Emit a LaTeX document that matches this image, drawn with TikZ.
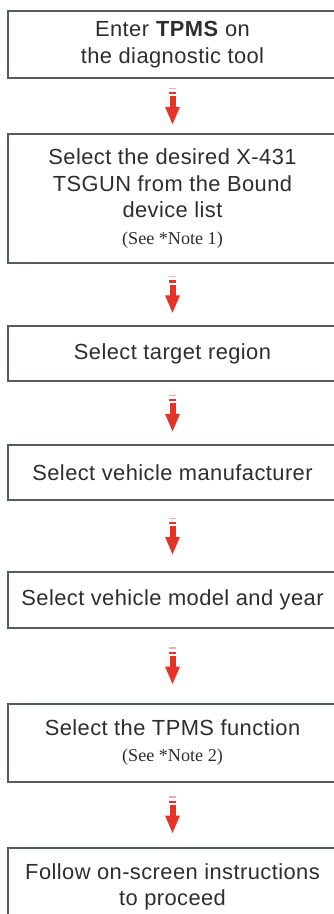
\documentclass[tikz,border=0pt]{standalone}
\usepackage{fontspec}
\setmainfont{Liberation Sans}[LetterSpace=2]
\newfontfamily\notefont{Liberation Serif}
\usetikzlibrary{decorations.markings}

\definecolor{boxgray}{RGB}{85,90,96}
\definecolor{textgray}{RGB}{45,45,45}
\definecolor{arrowred}{RGB}{228,52,42}

\tikzset{
	stepbox/.style={draw=boxgray, line width=1.5pt, text=textgray,
		minimum width=246.75pt, inner sep=0pt, align=center,
		font=\fontsize{16.4pt}{19.8pt}\selectfont},
	flowarrow/.style={postaction={decorate, decoration={markings,
		mark=at position 0.5 with {
			\fill[arrowred, opacity=0.4] (-18.5,-3.2) rectangle (-17.2,3.2);
			\fill[arrowred] (-14.2,-3.2) rectangle (-11.8,3.2);
			\fill[arrowred] (-9.8,-3) rectangle (1,3);
			\fill[arrowred] (0.8,-7.5) -- (18.3,0) -- (0.8,7.5) -- cycle;
		}}}}
}
\newcommand{\notetext}[1]{{\notefont\fontsize{13.6pt}{19.8pt}\selectfont #1}}

\begin{document}
\begin{tikzpicture}[x=0.75pt,y=0.75pt,yscale=-1,xscale=1]
	\useasboundingbox (0,0) rectangle (333,914);

	% Steps
	\node[stepbox, minimum height=50.25pt] (enter) at (172.5,44.5) {Enter \textbf{TPMS} on\\the diagnostic tool};
	\node[stepbox, minimum height=96.75pt] (tsgun) at (172.5,198.5) {Select the desired X-431\\TSGUN from the Bound\\device list\\\notetext{(See *Note 1)}};
	\node[stepbox, minimum height=41.25pt] (region) at (172.5,353.5) {Select target region};
	\node[stepbox, minimum height=41.25pt] (maker) at (172.5,472.5) {Select vehicle manufacturer};
	\node[stepbox, minimum height=42pt] (model) at (172.5,600) {Select vehicle model and year};
	\node[stepbox, minimum height=58.5pt] (function) at (172.5,742.5) {Select the TPMS function\\\notetext{(See *Note 2)}};
	\node[stepbox, minimum height=58.5pt] (follow) at (172.5,887) {Follow on-screen instructions\\to proceed};

	% Arrows
	\path[flowarrow] (enter) -- (tsgun);
	\path[flowarrow] (tsgun) -- (region);
	\path[flowarrow] (region) -- (maker);
	\path[flowarrow] (maker) -- (model);
	\path[flowarrow] (model) -- (function);
	\path[flowarrow] (function) -- (follow);

\end{tikzpicture}
\end{document}
